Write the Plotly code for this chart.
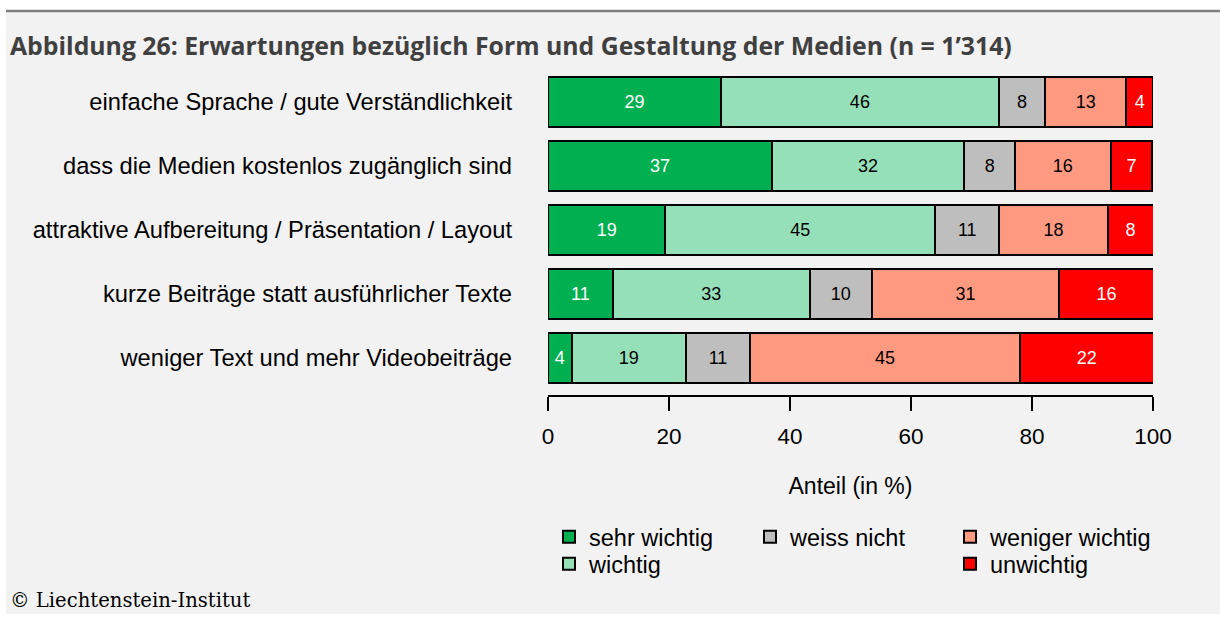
import plotly.graph_objects as go

categories = [
    "einfache Sprache / gute Verständlichkeit",
    "dass die Medien kostenlos zugänglich sind",
    "attraktive Aufbereitung / Präsentation / Layout",
    "kurze Beiträge statt ausführlicher Texte",
    "weniger Text und mehr Videobeiträge",
]
sehr_wichtig = [28.6, 37.0, 19.4, 10.7, 3.9]
wichtig = [45.9, 31.8, 44.6, 32.6, 18.9]
weiss_nicht = [7.7, 8.4, 10.6, 10.2, 10.6]
weniger_wichtig = [13.4, 15.8, 17.9, 31.0, 44.6]
unwichtig = [4.4, 6.9, 7.6, 15.6, 22.1]

series_names = ["sehr wichtig", "wichtig", "weiss nicht", "weniger wichtig", "unwichtig"]
series_values = [sehr_wichtig, wichtig, weiss_nicht, weniger_wichtig, unwichtig]
colors = ["#00b050", "#95e0b8", "#bebebe", "#ff9a80", "#ff0000"]
text_colors = ["white", "black", "black", "black", "white"]

title_text = "Abbildung 26: Erwartungen bezüglich Form und Gestaltung der Medien (n = 1’314)"
x_title = "Anteil (in %)"
x_ticks = [0, 20, 40, 60, 80, 100]
copyright_text = "© Liechtenstein-Institut"

W, H = 1220, 617
L, R, T, B = 548, 67, 70, 222
PW, PH = W - L - R, H - T - B
FONT = "Liberation Sans, Arial, sans-serif"

# legend slots (legend-left x, row centre y) in pixels
legend_slots = [(549, 537), (549, 564), (750, 537), (950, 537), (950, 564)]


def px(x):
    return (x - L) / PW


def py(y):
    return 1 - (y - T) / PH


fig = go.Figure()
legend_layout = {}
for i, (name, vals, col, tcol) in enumerate(zip(series_names, series_values, colors, text_colors)):
    lg = "legend" if i == 0 else f"legend{i + 1}"
    fig.add_trace(go.Bar(
        y=categories, x=vals, name=name, orientation="h",
        marker=dict(color=col, line=dict(color="black", width=2)),
        text=[str(round(v)) for v in vals],
        textposition="inside", insidetextanchor="middle",
        textfont=dict(color=tcol, size=18, family=FONT),
        constraintext="none", textangle=0,
        width=0.78, legend=lg, hoverinfo="skip",
    ))
    lx, ly = legend_slots[i]
    legend_layout[lg] = dict(
        x=lx / W, y=1 - ly / H, xref="container", yref="container",
        xanchor="left", yanchor="middle", bgcolor="rgba(0,0,0,0)",
        font=dict(family=FONT, size=23.5, color="black"),
        itemwidth=30,
    )

fig.update_layout(
    width=W, height=H, autosize=False,
    margin=dict(l=L, r=R, t=T, b=B, autoexpand=False),
    paper_bgcolor="white", plot_bgcolor="rgba(0,0,0,0)",
    barmode="stack", showlegend=True,
    font=dict(family=FONT, color="black"),
    xaxis=dict(
        range=[0, 100], tickvals=x_ticks, ticks="outside", ticklen=14, tickwidth=2,
        tickcolor="black", showline=True, linewidth=2, linecolor="black",
        showgrid=False, zeroline=False, automargin=False, ticklabelstandoff=6,
        tickfont=dict(family=FONT, size=22.5, color="black"),
        title=dict(text=x_title, font=dict(family=FONT, size=23, color="black"), standoff=30),
    ),
    yaxis=dict(
        type="category", categoryorder="array", categoryarray=categories,
        range=[4.578, -0.5], showline=False, ticks="", showgrid=False, zeroline=False,
        automargin=False,
        tickfont=dict(family=FONT, size=23.7, color="black"), ticklabelstandoff=35,
    ),
    shapes=[
        dict(type="rect", xref="paper", yref="paper", layer="below",
             x0=px(6), x1=px(W), y0=py(614), y1=py(12),
             fillcolor="#f2f2f2", line=dict(width=0)),
        dict(type="line", xref="paper", yref="paper",
             x0=px(6), x1=px(W), y0=py(11), y1=py(11),
             line=dict(color="#808080", width=2.5)),
    ],
    annotations=[
        dict(text="<b>" + title_text + "</b>", xref="paper", yref="paper",
             x=px(8), y=py(45), xanchor="left", yanchor="middle",
             showarrow=False, font=dict(family="Open Sans, sans-serif", size=24.8, color="#404040")),
        dict(text=copyright_text, xref="paper", yref="paper",
             x=px(8), y=py(600), xanchor="left", yanchor="middle",
             showarrow=False, font=dict(family="DejaVu Serif, serif", size=19.6, color="black")),
    ],
)
fig.update_layout(**legend_layout)

fig.write_html("out.html", config={"displayModeBar": False},
               post_script="document.body.style.margin='0px';")
